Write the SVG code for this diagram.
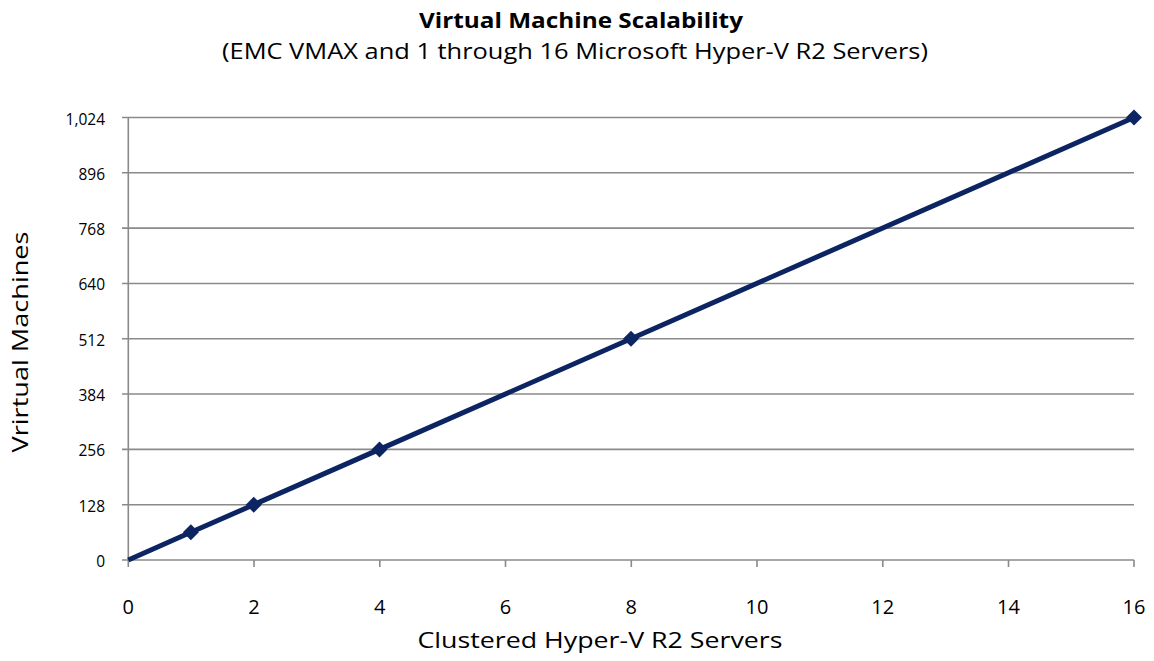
<svg xmlns="http://www.w3.org/2000/svg" width="1154" height="661" viewBox="0 0 1154 661">
<defs>
<style>
.t{font-family:"Open Sans","Liberation Sans",sans-serif;fill:#000}
.grid{stroke:#8a8a8a;stroke-width:1.6;fill:none}
.ylab{font-size:15.5px;text-anchor:end}
.xlab{font-size:20px;text-anchor:middle}
.series{stroke:#0c2461;stroke-width:5;fill:none;stroke-linejoin:round}
.mk{fill:#0c2461}
</style>
<path id="dm" d="M0,-8 L8,0 L0,8 L-8,0 Z"/>
</defs>
<rect width="1154" height="661" fill="#fff"/>
<g id="title">
<text class="t" x="581" y="28" font-size="20.5" font-weight="bold" text-anchor="middle" textLength="324" lengthAdjust="spacingAndGlyphs">Virtual Machine Scalability</text>
<text class="t" x="575" y="59" font-size="21" text-anchor="middle" textLength="706" lengthAdjust="spacingAndGlyphs">(EMC VMAX and 1 through 16 Microsoft Hyper-V R2 Servers)</text>
</g>
<g id="gridlines">
<path class="grid" d="M122,560H1134M122,504.69H1134M122,449.38H1134M122,394.06H1134M122,338.75H1134M122,283.44H1134M122,228.13H1134M122,172.81H1134M122,117.5H1134"/>
<path class="grid" d="M128.3,117.5V567M128.3,560V567M254,560V567M379.8,560V567M505.5,560V567M631.3,560V567M757,560V567M882.8,560V567M1008.5,560V567M1134,560V567"/>
</g>
<g id="y-axis-labels" class="t ylab">
<text x="105" y="567">0</text>
<text x="105" y="511.7">128</text>
<text x="105" y="456.4">256</text>
<text x="105" y="401.1">384</text>
<text x="105" y="345.8">512</text>
<text x="105" y="290.4">640</text>
<text x="105" y="235.1">768</text>
<text x="105" y="179.8">896</text>
<text x="105" y="124.5">1,024</text>
</g>
<g id="x-axis-labels" class="t xlab">
<text x="128.3" y="614">0</text>
<text x="254" y="614">2</text>
<text x="379.8" y="614">4</text>
<text x="505.5" y="614">6</text>
<text x="631.3" y="614">8</text>
<text x="757" y="614">10</text>
<text x="882.8" y="614">12</text>
<text x="1008.5" y="614">14</text>
<text x="1134" y="614">16</text>
</g>
<g id="axis-titles">
<text class="t" x="600" y="648" font-size="21" text-anchor="middle" textLength="365" lengthAdjust="spacingAndGlyphs">Clustered Hyper-V R2 Servers</text>
<text class="t" transform="translate(28,342) rotate(-90)" font-size="21" text-anchor="middle" textLength="221" lengthAdjust="spacingAndGlyphs">Vrirtual  Machines</text>
</g>
<g id="connectors">
<polyline class="series" points="128.3,560 190.9,532.3 253.75,504.7 379.5,449.4 631,338.75 1134,117.5"/>
</g>
<g id="markers">
<use href="#dm" class="mk" x="190.9" y="532.3"/>
<use href="#dm" class="mk" x="253.75" y="504.7"/>
<use href="#dm" class="mk" x="379.5" y="449.4"/>
<use href="#dm" class="mk" x="631" y="338.75"/>
<use href="#dm" class="mk" x="1134" y="117.5"/>
</g>
</svg>
